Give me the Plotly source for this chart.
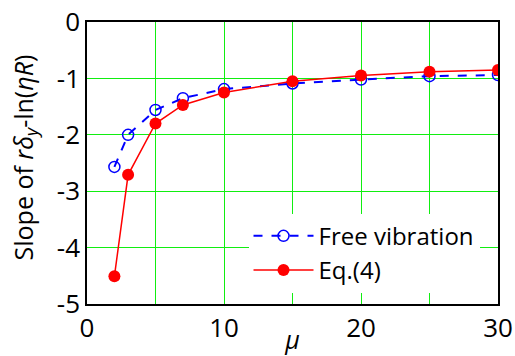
import plotly.graph_objects as go

mu = [2, 3, 5, 7, 10, 15, 20, 25, 30]
free_vibration = [-2.57, -2.00, -1.56, -1.35, -1.19, -1.09, -1.02, -0.96, -0.94]
eq4 = [-4.51, -2.71, -1.80, -1.47, -1.25, -1.05, -0.95, -0.88, -0.85]

x_ticks = [0, 5, 10, 15, 20, 25, 30]
x_tick_labels = ["0", "", "10", "", "20", "", "30"]
y_ticks = [0, -1, -2, -3, -4, -5]
y_tick_labels = ["0", "-1", "-2", "-3", "-4", "-5"]

FONT = "Open Sans"
GRID = "#11ee11"

fig = go.Figure()
fig.add_trace(go.Scatter(
    x=mu, y=free_vibration, name="Free vibration", mode="lines+markers",
    line=dict(color="#0000ff", width=2, dash="dash"),
    marker=dict(symbol="circle-open", size=11, color="#0000ff", line=dict(width=1.5)),
))
fig.add_trace(go.Scatter(
    x=mu, y=eq4, name="Eq.(4)", mode="lines+markers",
    line=dict(color="#ff0000", width=1.5),
    marker=dict(symbol="circle", size=12, color="#ff0000"),
))

fig.update_layout(
    width=515, height=356,
    margin=dict(l=87, r=17, t=22, b=52),
    paper_bgcolor="white", plot_bgcolor="white",
    font=dict(family=FONT, size=24, color="black"),
    showlegend=True,
    legend=dict(x=0.955, y=0.04, xanchor="right", yanchor="bottom",
                bgcolor="white", borderwidth=0, font=dict(size=24, family=FONT),
                tracegroupgap=0, itemwidth=60),
    annotations=[dict(
        text="Slope of <i>rδ</i><sub><i>y</i></sub>-ln(<i>ηR</i>)",
        xref="paper", yref="paper", x=-0.153, y=0.52, xanchor="center", yanchor="middle",
        textangle=-90, showarrow=False, font=dict(size=25, family=FONT, color="black"),
    )],
)
fig.update_xaxes(
    range=[0, 30], tickvals=x_ticks, ticktext=x_tick_labels, ticks="", showline=True, mirror=True,
    linecolor="black", linewidth=1.5, showgrid=True, gridcolor=GRID, gridwidth=1,
    zeroline=False, automargin=False,
    tickfont=dict(size=26), title=dict(text="<i>μ</i>", standoff=2, font=dict(size=25)),
)
fig.update_yaxes(
    range=[-5, 0], tickvals=y_ticks, ticktext=y_tick_labels, ticks="", showline=True, mirror=True,
    linecolor="black", linewidth=1.5, showgrid=True, gridcolor=GRID, gridwidth=1,
    zeroline=False, automargin=False,
    tickfont=dict(size=26),
)

fig.write_html("out.html", config={"displayModeBar": False},
               post_script="document.body.style.margin='0';")
